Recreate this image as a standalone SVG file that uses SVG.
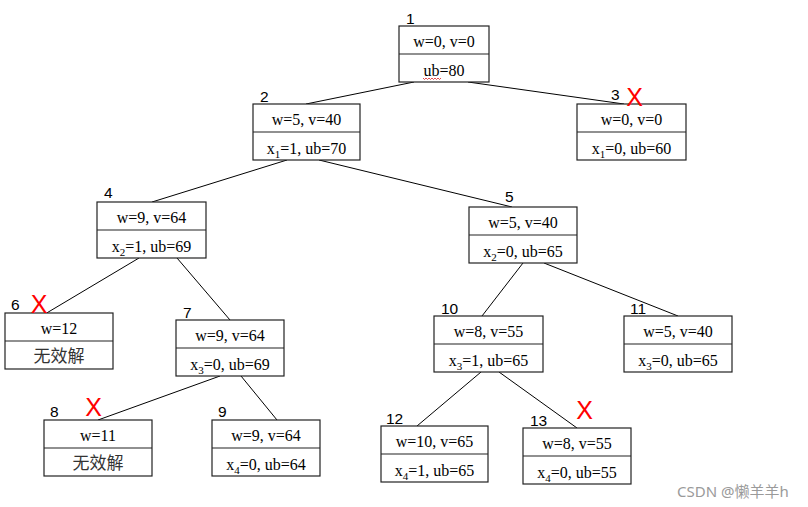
<svg xmlns="http://www.w3.org/2000/svg" width="808" height="507" viewBox="0 0 808 507">
<style>
.box{fill:#fff;stroke:#222;stroke-width:1.2}
.div{stroke:#222;stroke-width:1.2}
.t{font-family:"Liberation Serif","Times New Roman",serif;font-size:16px;fill:#000;text-anchor:middle}
.cn{font-family:"Noto Sans CJK SC","Noto Sans",sans-serif;font-size:17px;fill:#333;text-anchor:middle}
.sub{font-size:11px}
.num{font-family:"Liberation Sans",Arial,sans-serif;font-size:15.5px;fill:#000}
.x{font-family:"Liberation Sans",Arial,sans-serif;font-size:25px;fill:#ff0000;text-anchor:middle}
.edge{stroke:#000;stroke-width:1;fill:none}
.wm{font-family:"Noto Sans","Noto Sans CJK SC",sans-serif;font-size:15px;fill:#9a9a9a}
</style>
<rect width="808" height="507" fill="#fff"/>
<g id="connectors">
<line class="edge" x1="414" y1="82" x2="306" y2="104"/>
<line class="edge" x1="468" y1="82" x2="624" y2="104"/>
<line class="edge" x1="287" y1="160" x2="152" y2="202"/>
<line class="edge" x1="319" y1="160" x2="512" y2="207"/>
<line class="edge" x1="139" y1="258" x2="45" y2="314"/>
<line class="edge" x1="177" y1="258" x2="230" y2="320"/>
<line class="edge" x1="220" y1="376" x2="98" y2="420"/>
<line class="edge" x1="241" y1="376" x2="277" y2="420"/>
<line class="edge" x1="523" y1="263" x2="482" y2="316"/>
<line class="edge" x1="544" y1="263" x2="678" y2="316"/>
<line class="edge" x1="481" y1="372" x2="417" y2="426"/>
<line class="edge" x1="499" y1="372" x2="577" y2="428"/>
</g>
<g id="n1">
<rect class="box" x="399" y="26" width="90" height="56"/>
<line class="div" x1="399" y1="54" x2="489" y2="54"/>
<text class="t" x="444" y="47">w=0, v=0</text>
<text class="t" x="444" y="75.5">ub=80</text>
<polyline points="423,78 424.5,79.5 426,78 427.5,79.5 429,78 430.5,79.5 432,78 433.5,79.5 435,78 436.5,79.5 438,78 439.5,79.5 441,78" fill="none" stroke="#e02020" stroke-width="0.8"/>
<text class="num" x="406" y="23.5">1</text>
</g>
<g id="n2">
<rect class="box" x="253" y="104" width="107" height="56"/>
<line class="div" x1="253" y1="132" x2="360" y2="132"/>
<text class="t" x="306.5" y="125">w=5, v=40</text>
<text class="t" x="306.5" y="153.5">x<tspan class="sub" dy="4">1</tspan><tspan dy="-4">=1, ub=70</tspan></text>
<text class="num" x="260" y="101.5">2</text>
</g>
<g id="n3">
<rect class="box" x="577" y="104" width="109" height="56"/>
<line class="div" x1="577" y1="132" x2="686" y2="132"/>
<text class="t" x="631.5" y="125">w=0, v=0</text>
<text class="t" x="631.5" y="153.5">x<tspan class="sub" dy="4">1</tspan><tspan dy="-4">=0, ub=60</tspan></text>
<text class="num" x="611" y="100">3</text>
<text class="x" x="634.5" y="105.5">X</text>
</g>
<g id="n4">
<rect class="box" x="97" y="202" width="109" height="56"/>
<line class="div" x1="97" y1="230" x2="206" y2="230"/>
<text class="t" x="151.5" y="223">w=9, v=64</text>
<text class="t" x="151.5" y="251.5">x<tspan class="sub" dy="4">2</tspan><tspan dy="-4">=1, ub=69</tspan></text>
<text class="num" x="104" y="198">4</text>
</g>
<g id="n5">
<rect class="box" x="469" y="207" width="108" height="56"/>
<line class="div" x1="469" y1="235" x2="577" y2="235"/>
<text class="t" x="523" y="228">w=5, v=40</text>
<text class="t" x="523" y="256.5">x<tspan class="sub" dy="4">2</tspan><tspan dy="-4">=0, ub=65</tspan></text>
<text class="num" x="505" y="202">5</text>
</g>
<g id="n6">
<rect class="box" x="5" y="313" width="108" height="56"/>
<line class="div" x1="5" y1="341" x2="113" y2="341"/>
<text class="t" x="59" y="334">w=12</text>
<text class="cn" x="59" y="362">无效解</text>
<text class="num" x="11" y="310">6</text>
<text class="x" x="39" y="312.5">X</text>
</g>
<g id="n7">
<rect class="box" x="176" y="320" width="108" height="56"/>
<line class="div" x1="176" y1="348" x2="284" y2="348"/>
<text class="t" x="230" y="341">w=9, v=64</text>
<text class="t" x="230" y="369.5">x<tspan class="sub" dy="4">3</tspan><tspan dy="-4">=0, ub=69</tspan></text>
<text class="num" x="183" y="317.5">7</text>
</g>
<g id="n8">
<rect class="box" x="44" y="420" width="108" height="56"/>
<line class="div" x1="44" y1="448" x2="152" y2="448"/>
<text class="t" x="98" y="441">w=11</text>
<text class="cn" x="98" y="469">无效解</text>
<text class="num" x="50" y="416.5">8</text>
<text class="x" x="93.5" y="416">X</text>
</g>
<g id="n9">
<rect class="box" x="212" y="420" width="108" height="56"/>
<line class="div" x1="212" y1="448" x2="320" y2="448"/>
<text class="t" x="266" y="441">w=9, v=64</text>
<text class="t" x="266" y="469.5">x<tspan class="sub" dy="4">4</tspan><tspan dy="-4">=0, ub=64</tspan></text>
<text class="num" x="218" y="416.5">9</text>
</g>
<g id="n10">
<rect class="box" x="434" y="316" width="109" height="56"/>
<line class="div" x1="434" y1="344" x2="543" y2="344"/>
<text class="t" x="488.5" y="337">w=8, v=55</text>
<text class="t" x="488.5" y="365.5">x<tspan class="sub" dy="4">3</tspan><tspan dy="-4">=1, ub=65</tspan></text>
<text class="num" x="441" y="313.5">10</text>
</g>
<g id="n11">
<rect class="box" x="624" y="316" width="108" height="56"/>
<line class="div" x1="624" y1="344" x2="732" y2="344"/>
<text class="t" x="678" y="337">w=5, v=40</text>
<text class="t" x="678" y="365.5">x<tspan class="sub" dy="4">3</tspan><tspan dy="-4">=0, ub=65</tspan></text>
<text class="num" x="630" y="313.5">11</text>
</g>
<g id="n12">
<rect class="box" x="381" y="426" width="107" height="56"/>
<line class="div" x1="381" y1="454" x2="488" y2="454"/>
<text class="t" x="434.5" y="447">w=10, v=65</text>
<text class="t" x="434.5" y="475.5">x<tspan class="sub" dy="4">4</tspan><tspan dy="-4">=1, ub=65</tspan></text>
<text class="num" x="386" y="423.5">12</text>
</g>
<g id="n13">
<rect class="box" x="523" y="428" width="108" height="56"/>
<line class="div" x1="523" y1="456" x2="631" y2="456"/>
<text class="t" x="577" y="449">w=8, v=55</text>
<text class="t" x="577" y="477.5">x<tspan class="sub" dy="4">4</tspan><tspan dy="-4">=0, ub=55</tspan></text>
<text class="num" x="530" y="425.5">13</text>
<text class="x" x="584.5" y="419">X</text>
</g>
<text class="wm" x="677" y="496.5">CSDN @懒羊羊h</text>
</svg>
